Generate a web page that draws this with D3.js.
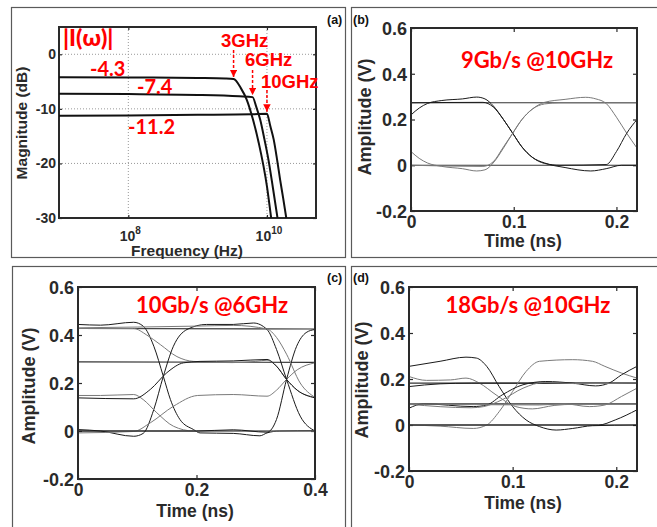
<!DOCTYPE html>
<html><head><meta charset="utf-8">
<script src="https://cdn.jsdelivr.net/npm/d3@7/dist/d3.min.js"></script>
<style>body{margin:0;background:#fff}svg{display:block}</style>
</head><body>
<svg id="fig" width="657" height="527"></svg>
<script>
// ---------------- DATA ----------------
// Panel (a): |I(w)| magnitude responses, [frequency Hz, dB]
const magDbTicks = [0, -10, -20, -30];
const magFreqTicks = [1e8, 1e10];
const magFreqExp = ["8", "10"];
const mag3GHz  = [[1e7,-4.2],[1e8,-4.25],[1e9,-4.35],[2.5e9,-4.45],[3.3e9,-4.55],[4.2e9,-6.2],[5.1e9,-8.3],[6.3e9,-12],[7.6e9,-16.2],[1e10,-24.2],[1.15e10,-30]];
const mag6GHz  = [[1e7,-7.25],[1e8,-7.3],[1e9,-7.45],[4e9,-7.7],[6.2e9,-7.85],[7e9,-9.6],[8e9,-12],[9.2e9,-15.6],[1.05e10,-19.3],[1.22e10,-24.5],[1.42e10,-30]];
const mag10GHz = [[1e7,-11.25],[1e8,-11.2],[1e9,-11.1],[6e9,-11.0],[1e10,-10.9],[1.12e10,-13.2],[1.25e10,-15.6],[1.4e10,-19.3],[1.55e10,-23],[1.72e10,-26.5],[1.9e10,-30]];
const magLevelLabels = ["-4.3", "-7.4", "-11.2"];
const cornerLabels = ["3GHz", "6GHz", "10GHz"];
const cornerFreqs = [3.3e9, 6.2e9, 1e10];
const cornerDb = [-4.55, -7.85, -10.9];

// Eye diagrams: [time ns, amplitude V]
const eyeYTicks = [-0.2, 0, 0.2, 0.4, 0.6];
const eyeXTicksShort = [0, 0.1, 0.2];
const eyeXTicksLong = [0, 0.2, 0.4];

// (b) 9Gb/s @10GHz
const bFlatHi = [[0,0.273],[0.22,0.273]];
const bFlatLo = [[0,0],[0.22,0]];
const bTrace1 = [[0,0.22],[0.008,0.25],[0.016,0.27],[0.03,0.283],[0.05,0.29],[0.064,0.298],[0.072,0.29],[0.08,0.26],[0.09,0.2],[0.099,0.14],[0.108,0.08],[0.118,0.035],[0.13,0.01],[0.15,-0.01],[0.175,-0.025],[0.19,-0.015],[0.205,0],[0.22,0]];
const bTrace2 = [[0,0.06],[0.008,0.03],[0.016,0.01],[0.03,-0.005],[0.05,-0.015],[0.064,-0.025],[0.072,-0.02],[0.08,0.01],[0.09,0.075],[0.099,0.14],[0.108,0.2],[0.118,0.245],[0.13,0.275],[0.15,0.288],[0.17,0.297],[0.18,0.29],[0.19,0.27],[0.2,0.21],[0.21,0.14],[0.22,0.075]];
const bTrace3 = [[0,0.273],[0.07,0.275],[0.08,0.255],[0.09,0.2],[0.099,0.14],[0.108,0.08],[0.118,0.035],[0.13,0.008],[0.145,0],[0.19,0.003],[0.2,0.06],[0.21,0.14],[0.22,0.2]];
const bTrace4 = [[0,0],[0.07,-0.005],[0.08,0.015],[0.09,0.08],[0.099,0.14],[0.108,0.2],[0.118,0.245],[0.13,0.268],[0.145,0.273],[0.22,0.273]];

// (c) 10Gb/s @6GHz
const cFlat3 = [[0,0.427],[0.4,0.425]];
const cFlat2 = [[0,0.288],[0.4,0.286]];
const cFlat0 = [[0,0],[0.4,0]];
const cTrace1 = [[0,0.444],[0.038,0.441],[0.094,0.453],[0.11,0.437],[0.128,0.353],[0.144,0.228],[0.156,0.131],[0.172,0.048],[0.195,0.006],[0.206,-0.008],[0.262,-0.01],[0.307,-0.02],[0.319,-0.008],[0.34,0],[0.4,0.002]];
const cTrace2 = [[0,0.427],[0.094,0.427],[0.116,0.4],[0.139,0.36],[0.167,0.31],[0.195,0.29],[0.26,0.285],[0.3,0.29],[0.319,0.295],[0.335,0.27],[0.352,0.215],[0.37,0.17],[0.4,0.14]];
const cTrace3 = [[0,0.006],[0.038,0],[0.094,-0.022],[0.11,-0.01],[0.128,0.09],[0.144,0.228],[0.161,0.353],[0.184,0.423],[0.217,0.444],[0.262,0.444],[0.296,0.45],[0.319,0.423],[0.335,0.34],[0.352,0.215],[0.375,0.062],[0.4,0]];
const cTrace4 = [[0,0.148],[0.038,0.148],[0.094,0.152],[0.11,0.131],[0.133,0.076],[0.161,0.02],[0.195,0],[0.26,0],[0.4,0]];
const cTrace5 = [[0,0.138],[0.094,0.134],[0.122,0.173],[0.15,0.243],[0.178,0.284],[0.206,0.29],[0.262,0.292],[0.319,0.298],[0.335,0.27],[0.352,0.215],[0.37,0.17],[0.4,0.138]];
const cTrace6 = [[0,-0.008],[0.094,-0.002],[0.122,0.034],[0.161,0.103],[0.202,0.148],[0.262,0.152],[0.319,0.145],[0.335,0.17],[0.352,0.215],[0.37,0.255],[0.4,0.284]];
const cTrace7 = [[0,0],[0.2,0],[0.262,0.005],[0.319,-0.005],[0.335,0.048],[0.352,0.215],[0.369,0.353],[0.385,0.41],[0.4,0.423]];
const cTrace8 = [[0,0.43],[0.2,0.437],[0.262,0.44],[0.319,0.425],[0.335,0.39],[0.352,0.32],[0.375,0.2],[0.4,0.14]];

// (d) 18Gb/s @10GHz
const dFlat2 = [[0,0.182],[0.22,0.182]];
const dFlat1 = [[0,0.092],[0.22,0.092]];
const dFlat0 = [[0,0],[0.22,0]];
const dTrace1 = [[0,0.255],[0.03,0.277],[0.055,0.295],[0.065,0.291],[0.075,0.255],[0.087,0.167],[0.1,0.08],[0.113,0.022],[0.126,-0.007],[0.142,-0.022],[0.158,-0.015],[0.177,-0.003],[0.22,0]];
const dTrace2 = [[0,0.211],[0.017,0.194],[0.04,0.196],[0.055,0.204],[0.068,0.182],[0.084,0.131],[0.103,0.08],[0.119,0.07],[0.14,0.085],[0.16,0.09],[0.22,0.09]];
const dTrace3 = [[0,0.167],[0.03,0.179],[0.06,0.182],[0.22,0.182]];
const dTrace4 = [[0,0],[0.03,-0.005],[0.062,-0.015],[0.075,0],[0.087,0.058],[0.1,0.146],[0.113,0.233],[0.126,0.277],[0.158,0.284],[0.177,0.277],[0.189,0.255],[0.205,0.226],[0.22,0.204]];
const dTrace5 = [[0,0.073],[0.014,0.092],[0.062,0.08],[0.075,0.087],[0.09,0.131],[0.11,0.175],[0.132,0.189],[0.158,0.182],[0.18,0.17],[0.193,0.182],[0.205,0.218],[0.22,0.255]];
const dTrace6 = [[0,0.092],[0.126,0.087],[0.15,0.092],[0.174,0.08],[0.189,0.087],[0.205,0.124],[0.22,0.16]];
const dTrace7 = [[0,0],[0.183,0],[0.199,0.022],[0.22,0.066]];
const dTrace8 = [[0,0.09],[0.06,0.075],[0.072,0.08],[0.09,0.11],[0.11,0.16],[0.13,0.185],[0.16,0.18],[0.22,0.182]];

// ---------------- DRAWING ----------------
const svg = d3.select("#fig");
const FONT = "'Liberation Sans', Arial, sans-serif";
const INK = "#2a2a2a";

// outer frames
const frames = [
  {x:11, y:7, w:334, h:250},
  {x:351, y:7, w:330, h:250},
  {x:12, y:266, w:333, h:280},
  {x:351, y:266, w:330, h:280}
];
svg.selectAll("rect.frame").data(frames).join("rect").attr("class","frame")
  .attr("x",d=>d.x+0.5).attr("y",d=>d.y+0.5).attr("width",d=>d.w).attr("height",d=>d.h)
  .attr("fill","none").attr("stroke","#5a5a5a").attr("stroke-width",1.2);

const panelTags = [{t:"(a)",x:327,y:24},{t:"(b)",x:353,y:24},{t:"(c)",x:327,y:282},{t:"(d)",x:353,y:282}];
svg.selectAll("text.tag").data(panelTags).join("text").attr("class","tag")
  .attr("x",d=>d.x).attr("y",d=>d.y).text(d=>d.t)
  .attr("font-family",FONT).attr("font-weight","bold").attr("font-size",12.5).attr("fill","#111");

function styleAxis(g, size){
  g.select(".domain").remove();
  g.attr("font-family",FONT).attr("font-size",size).attr("font-weight","bold").attr("color",INK);
  g.selectAll(".tick line").attr("stroke-width",1.2);
}

function box(p){
  svg.append("rect").attr("x",p.x0).attr("y",p.y0).attr("width",p.x1-p.x0).attr("height",p.y1-p.y0)
    .attr("fill","none").attr("stroke",INK).attr("stroke-width",2);
}

let clipId = 0;
function clip(p){
  const id = "clip"+(clipId++);
  svg.append("clipPath").attr("id",id).append("rect")
    .attr("x",p.x0).attr("y",p.y0).attr("width",p.x1-p.x0).attr("height",p.y1-p.y0);
  return "url(#"+id+")";
}

const numFmt = d => String(+d.toFixed(1));

// ---------- Panel (a) ----------
(function(){
  const p = {x0:59,x1:316,y0:27,y1:218};
  const x = d3.scaleLog().domain([1e7, 5.1e10]).range([p.x0,p.x1]);
  const y = d3.scaleLinear().domain([-30, 5]).range([p.y1,p.y0]);
  const g = svg.append("g");
  // grid
  g.selectAll("line.gx").data(magFreqTicks).join("line")
    .attr("x1",d=>x(d)).attr("x2",d=>x(d)).attr("y1",p.y0).attr("y2",p.y1)
    .attr("stroke","#999").attr("stroke-dasharray","1,2").attr("stroke-width",1);
  g.selectAll("line.gy").data(magDbTicks.filter(d=>d>-30)).join("line")
    .attr("x1",p.x0).attr("x2",p.x1).attr("y1",d=>y(d)).attr("y2",d=>y(d))
    .attr("stroke","#999").attr("stroke-dasharray","1,2").attr("stroke-width",1);
  // axes
  const ay = svg.append("g").attr("transform",`translate(${p.x0},0)`)
    .call(d3.axisLeft(y).tickValues(magDbTicks).tickSize(-3).tickPadding(3).tickFormat(d=>String(d)));
  styleAxis(ay, 14);
  const ay2 = svg.append("g").attr("transform",`translate(${p.x1},0)`)
    .call(d3.axisRight(y).tickValues(magDbTicks).tickSize(-3).tickFormat(""));
  styleAxis(ay2, 14);
  const ax = svg.append("g").attr("transform",`translate(0,${p.y1})`)
    .call(d3.axisBottom(x).tickValues(magFreqTicks).tickSize(-3).tickFormat(""));
  styleAxis(ax, 14);
  const ax2 = svg.append("g").attr("transform",`translate(0,${p.y0})`)
    .call(d3.axisTop(x).tickValues(magFreqTicks).tickSize(-3).tickFormat(""));
  styleAxis(ax2, 14);
  // log tick labels 10^n
  const lbl = svg.selectAll("text.flab").data(magFreqTicks).join("text").attr("class","flab")
    .attr("x",d=>x(d)+2).attr("y",241).attr("text-anchor","middle")
    .attr("font-family",FONT).attr("font-weight","bold").attr("font-size",14).attr("fill",INK);
  lbl.append("tspan").text("10");
  lbl.append("tspan").attr("dy",-7).attr("font-size",10).text((d,i)=>magFreqExp[i]);
  box(p);
  // curves
  const line = d3.line().x(d=>x(d[0])).y(d=>y(d[1])).curve(d3.curveMonotoneX);
  const cp = clip(p);
  [mag3GHz, mag6GHz, mag10GHz].forEach(c=>{
    svg.append("path").attr("d",line(c)).attr("fill","none").attr("stroke","#111")
      .attr("stroke-width",2).attr("clip-path",cp);
  });
  // axis titles
  svg.append("text").attr("x",187).attr("y",256).attr("text-anchor","middle")
    .attr("font-family",FONT).attr("font-weight","bold").attr("font-size",15.5).attr("fill",INK)
    .text("Frequency (Hz)");
  svg.append("text").attr("transform","translate(27,123) rotate(-90)").attr("text-anchor","middle")
    .attr("font-family",FONT).attr("font-weight","bold").attr("font-size",15.5).attr("fill",INK)
    .text("Magnitude (dB)");
  // red annotations
  const red = "#ff0000";
  const RF = "Lato, 'Liberation Sans', sans-serif";
  svg.append("text").attr("x",63).attr("y",46).text("|I(ω)|")
    .attr("font-family",RF).attr("font-weight","900").attr("font-size",23).attr("fill",red);
  const levPos = [{x:90,y:76},{x:137,y:94},{x:128,y:134}];
  magLevelLabels.forEach((t,i)=>{
    svg.append("text").attr("x",levPos[i].x).attr("y",levPos[i].y).text(t)
      .attr("font-family",RF).attr("font-weight","bold").attr("font-size",20).attr("fill",red);
  });
  const cornPos = [{x:221,y:47},{x:245,y:66},{x:261,y:87.5}];
  const arrowTop = [50, 70, 90];
  svg.append("defs").append("marker").attr("id","ah").attr("viewBox","0 0 10 10")
    .attr("refX",10).attr("refY",5).attr("markerWidth",5).attr("markerHeight",5)
    .attr("orient","auto").append("path").attr("d","M0,0L10,5L0,10Z").attr("fill",red);
  cornerLabels.forEach((t,i)=>{
    svg.append("text").attr("x",cornPos[i].x).attr("y",cornPos[i].y).text(t)
      .attr("font-family",FONT).attr("font-weight","bold").attr("font-size",18.5).attr("fill",red);
    const fx = x(cornerFreqs[i]);
    svg.append("line").attr("x1",fx).attr("x2",fx).attr("y1",arrowTop[i]).attr("y2",y(cornerDb[i])-2)
      .attr("stroke",red).attr("stroke-width",1.5).attr("stroke-dasharray","3,2")
      .attr("marker-end","url(#ah)");
  });
})();

// ---------- Eye panels ----------
function eyePanel(p, xDomain, xTicks, flats, traces, title, titlePos, ylab, xlab){
  const x = d3.scaleLinear().domain(xDomain).range([p.x0,p.x1]);
  const y = d3.scaleLinear().domain([-0.2,0.6]).range([p.y1,p.y0]);
  const ay = svg.append("g").attr("transform",`translate(${p.x0},0)`)
    .call(d3.axisLeft(y).tickValues(eyeYTicks).tickSize(-4).tickPadding(4).tickFormat(numFmt));
  styleAxis(ay, 18);
  ay.selectAll("text").attr("dy","0.35em");
  const ay2 = svg.append("g").attr("transform",`translate(${p.x1},0)`)
    .call(d3.axisRight(y).tickValues(eyeYTicks).tickSize(-4).tickFormat(""));
  styleAxis(ay2, 18);
  const ax = svg.append("g").attr("transform",`translate(0,${p.y1})`)
    .call(d3.axisBottom(x).tickValues(xTicks).tickSize(-4).tickPadding(5).tickFormat(numFmt));
  styleAxis(ax, 17.5);
  const ax2 = svg.append("g").attr("transform",`translate(0,${p.y0})`)
    .call(d3.axisTop(x).tickValues(xTicks).tickSize(-4).tickFormat(""));
  styleAxis(ax2, 18);
  const cp = clip(p);
  const line = d3.line().x(d=>x(d[0])).y(d=>y(d[1])).curve(d3.curveMonotoneX);
  flats.forEach(f=>{
    svg.append("path").attr("d",line(f)).attr("fill","none").attr("stroke","#333")
      .attr("stroke-width",1.1).attr("clip-path",cp);
  });
  traces.forEach((t,i)=>{
    svg.append("path").attr("d",line(t)).attr("fill","none")
      .attr("stroke", i%2 ? "#7a7a7a" : "#1a1a1a")
      .attr("stroke-width",1).attr("clip-path",cp);
  });
  box(p);
  svg.append("text").attr("x",titlePos.x).attr("y",titlePos.y).attr("text-anchor","middle")
    .attr("font-family","Lato, 'Liberation Sans', sans-serif").attr("font-weight","bold")
    .attr("font-size",22).attr("fill","#ff0000").text(title);
  svg.append("text").attr("transform",`translate(${ylab.x},${ylab.y}) rotate(-90)`).attr("text-anchor","middle")
    .attr("font-family",FONT).attr("font-weight","bold").attr("font-size",18).attr("fill",INK)
    .text("Amplitude (V)");
  svg.append("text").attr("x",xlab.x).attr("y",xlab.y).attr("text-anchor","middle")
    .attr("font-family",FONT).attr("font-weight","bold").attr("font-size",17.5).attr("fill",INK)
    .text("Time (ns)");
}

eyePanel({x0:411,x1:637,y0:28,y1:211}, [0,0.22], eyeXTicksShort,
  [bFlatHi,bFlatLo], [bTrace1,bTrace2,bTrace3,bTrace4],
  "9Gb/s @10GHz", {x:537,y:68}, {x:371,y:117}, {x:523,y:247});

eyePanel({x0:78,x1:315,y0:287,y1:479}, [0,0.4], eyeXTicksLong,
  [cFlat3,cFlat2,cFlat0], [cTrace1,cTrace2,cTrace3,cTrace4,cTrace5,cTrace6,cTrace7,cTrace8],
  "10Gb/s @6GHz", {x:212,y:313}, {x:35,y:386}, {x:195,y:517});

eyePanel({x0:409,x1:637,y0:287,y1:471}, [0,0.22], eyeXTicksShort,
  [dFlat2,dFlat1,dFlat0], [dTrace1,dTrace2,dTrace3,dTrace4,dTrace5,dTrace6,dTrace7,dTrace8],
  "18Gb/s @10GHz", {x:528,y:313}, {x:368,y:380}, {x:523,y:509});
</script>
</body></html>
